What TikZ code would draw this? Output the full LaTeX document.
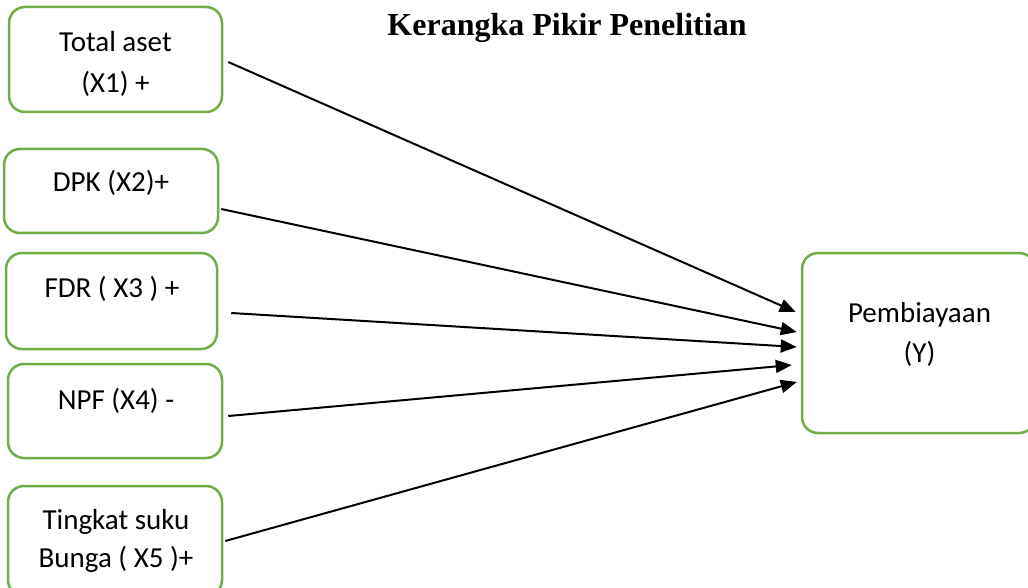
\documentclass[tikz,border=0pt]{standalone}
\usepackage{fontspec}
\newfontfamily\carl{Carlito}
\newfontfamily\tnr{Liberation Serif}
\usetikzlibrary{arrows.meta}
\definecolor{boxgreen}{HTML}{70AD47}
\tikzset{
  box/.style={draw=boxgreen, line width=2.5pt, rounded corners=16pt, fill=white, inner sep=0pt},
  txt/.style={anchor=base, inner sep=0pt, font=\carl\fontsize{29}{40}\selectfont},
  arr/.style={line width=2pt, -{Triangle[length=16pt,width=13pt]}}
}
\begin{document}
\begin{tikzpicture}[x=1pt,y=-1pt]
\clip (0,0) rectangle (1028,588);
\fill[white] (0,0) rectangle (1028,588);
% title
\node[anchor=base, inner sep=0pt, font=\tnr\bfseries\fontsize{32}{38}\selectfont] (title) at (567,36) {Kerangka Pikir Penelitian};
% boxes
\node[box, minimum width=213pt, minimum height=105pt] (b1) at (115.5,59.5) {};
\node[box, minimum width=214pt, minimum height=84pt] (b2) at (111,191) {};
\node[box, minimum width=211pt, minimum height=96pt] (b3) at (111.5,301) {};
\node[box, minimum width=214pt, minimum height=94pt] (b4) at (115,411) {};
\node[box, minimum width=214pt, minimum height=110pt] (b5) at (115,541) {};
\node[box, minimum width=233pt, minimum height=180pt] (Y) at (918.5,343) {};
% texts
\node[txt] (t1a) at (115.5,52) {Total aset};
\node[txt] (t1b) at (115.5,93) {(X1) +};
\node[txt] (t2) at (111,192) {DPK (X2)+};
\node[txt] (t3) at (112,297) {FDR ( X3 ) +};
\node[txt] (t4) at (116,409) {NPF (X4) -};
\node[txt] (t5a) at (116,529) {Tingkat suku};
\node[txt] (t5b) at (116,567) {Bunga ( X5 )+};
\node[txt] (tya) at (919.5,322) {Pembiayaan};
\node[txt] (tyb) at (919.5,362) {(Y)};
% connectors
\draw[arr] ([shift={(5,2.5)}]b1.east) -- ([shift={(-5,-31)}]Y.west);
\draw[arr] ([shift={(2,18)}]b2.east) -- ([shift={(-4,-11)}]Y.west);
\draw[arr] ([shift={(13,12)}]b3.east) -- ([shift={(-4,4)}]Y.west);
\draw[arr] ([shift={(5,5)}]b4.east) -- ([shift={(-9,22)}]Y.west);
\draw[arr] ([shift={(2,0)}]b5.east) -- ([shift={(-4,39)}]Y.west);
\end{tikzpicture}
\end{document}
